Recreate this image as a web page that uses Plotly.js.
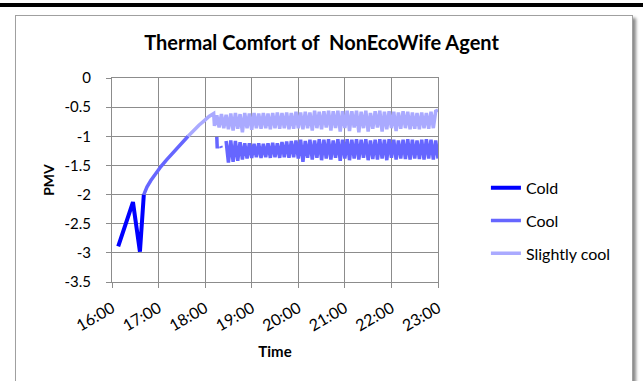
<!DOCTYPE html>
<html>
<head>
<meta charset="utf-8">
<script src="https://cdn.plot.ly/plotly-3.0.1.min.js"></script>
<style>
  html, body { margin: 0; padding: 0; background: #ffffff; overflow: hidden; width: 643px; height: 381px; }
  #topbar { position: absolute; left: 0; top: 3px; width: 643px; height: 4px; background: #000; }
  #chart { position: absolute; left: 15px; top: 15px; width: 616px; height: 380px; border: 1px solid #a0a0a0; box-shadow: 3px 3px 3px #8a8a8a; background: #fff; }
</style>
</head>
<body>
<div id="topbar"></div>
<div id="chart"></div>
<script>
// Time in minutes after 16:00
const xTickVals = [0, 60, 120, 180, 240, 300, 360, 420];
const xTickLabels = ["16:00", "17:00", "18:00", "19:00", "20:00", "21:00", "22:00", "23:00"];
const yTickVals = [0, -0.5, -1, -1.5, -2, -2.5, -3, -3.5];
const yTickLabels = ["0", "-0.5", "-1", "-1.5", "-2", "-2.5", "-3", "-3.5"];

// Cold
const coldTime = [8, 14, 20, 27, 36, 41];
const coldPMV  = [-2.89, -2.65, -2.43, -2.13, -2.98, -2.0];

// Cool (warm-up curve)
const coolRiseTime = [41, 45, 50, 56, 63, 70, 77, 84, 91, 98];
const coolRisePMV  = [-2.0, -1.87, -1.76, -1.64, -1.52, -1.41, -1.31, -1.21, -1.11, -1.0];
// Cool (short fragments right after 18:10)
const coolFragTime = [135, 135.6, null, 140, 140.8];
const coolFragPMV  = [-1.01, -1.21, null, -1.17, -1.2];

// Slightly cool (warm-up curve)
const slightRiseTime = [98, 105, 112, 119, 125, 131];
const slightRisePMV  = [-1.0, -0.9, -0.81, -0.73, -0.66, -0.61];

// Shared time grid of the oscillating part
const oscTime = [
  132, 135, 138, 141, 144, 147, 150, 153, 156, 159,
  162, 165, 168, 171, 174, 177, 180, 183, 186, 189,
  192, 195, 198, 201, 204, 207, 210, 213, 216, 219,
  222, 225, 228, 231, 234, 237, 240, 243, 246, 249,
  252, 255, 258, 261, 264, 267, 270, 273, 276, 279,
  282, 285, 288, 291, 294, 297, 300, 303, 306, 309,
  312, 315, 318, 321, 324, 327, 330, 333, 336, 339,
  342, 345, 348, 351, 354, 357, 360, 363, 366, 369,
  372, 375, 378, 381, 384, 387, 390, 393, 396, 399,
  402, 405, 408, 411, 414, 417, 420
];
const slightOscPMV = [
  -0.82, -0.64, -0.85, -0.62, -0.86, -0.63, -0.88, -0.61, -0.90, -0.60,
  -0.87, -0.62, -0.93, -0.60, -0.86, -0.61, -0.89, -0.60, -0.86, -0.61,
  -0.87, -0.60, -0.86, -0.61, -0.88, -0.60, -0.86, -0.59, -0.87, -0.60,
  -0.86, -0.59, -0.88, -0.60, -0.87, -0.58, -0.86, -0.59, -0.88, -0.58,
  -0.86, -0.59, -0.90, -0.56, -0.86, -0.58, -0.88, -0.57, -0.85, -0.56,
  -0.90, -0.57, -0.86, -0.56, -0.92, -0.57, -0.86, -0.56, -0.91, -0.57,
  -0.85, -0.56, -0.93, -0.58, -0.86, -0.56, -0.92, -0.60, -0.87, -0.57,
  -0.85, -0.56, -0.92, -0.58, -0.88, -0.57, -0.86, -0.58, -0.91, -0.59,
  -0.87, -0.57, -0.86, -0.58, -0.88, -0.59, -0.87, -0.60, -0.88, -0.59,
  -0.86, -0.60, -0.87, -0.58, -0.86, -0.57, -0.55
];
const coolOscPMV = [
  null, null, null, null, null, -1.08, -1.45, -1.07, -1.44, -1.08,
  -1.42, -1.10, -1.40, -1.12, -1.38, -1.12, -1.37, -1.13, -1.36, -1.12,
  -1.37, -1.13, -1.36, -1.12, -1.37, -1.11, -1.36, -1.12, -1.37, -1.10,
  -1.36, -1.09, -1.37, -1.08, -1.36, -1.07, -1.38, -1.06, -1.44, -1.08,
  -1.37, -1.06, -1.40, -1.07, -1.37, -1.05, -1.41, -1.06, -1.38, -1.05,
  -1.40, -1.07, -1.37, -1.05, -1.42, -1.06, -1.38, -1.05, -1.41, -1.06,
  -1.38, -1.05, -1.40, -1.06, -1.37, -1.05, -1.41, -1.07, -1.39, -1.06,
  -1.40, -1.05, -1.38, -1.06, -1.41, -1.05, -1.37, -1.06, -1.40, -1.07,
  -1.38, -1.06, -1.39, -1.05, -1.40, -1.06, -1.38, -1.07, -1.39, -1.06,
  -1.40, -1.05, -1.38, -1.06, -1.40, -1.07, -1.38
];

const seriesNames = ["Cold", "Cool", "Slightly cool"];
const seriesColors = ["#0000ff", "#6666ff", "#aaaaff"];

const FONT = "Lato, 'Open Sans', sans-serif";

const traces = [
  {
    x: coldTime, y: coldPMV
  },
  {
    x: coolRiseTime.concat([null], coolFragTime, [null], oscTime),
    y: coolRisePMV.concat([null], coolFragPMV, [null], coolOscPMV)
  },
  {
    x: slightRiseTime.concat(oscTime),
    y: slightRisePMV.concat(slightOscPMV)
  }
].map((t, i) => Object.assign(t, {
  type: "scatter",
  mode: "lines",
  name: seriesNames[i],
  legendgroup: "g" + i,
  connectgaps: false,
  line: { color: seriesColors[i], width: i === 0 ? 4 : 3.5 },
  hoverinfo: "skip"
}));

const gridColor = "#8c8c8c";

const layout = {
  width: 616,
  height: 380,
  margin: { l: 96, r: 194, t: 62, b: 114 },
  paper_bgcolor: "#ffffff",
  plot_bgcolor: "#ffffff",
  font: { family: FONT, size: 15, color: "#000" },
  title: {
    text: "<b>Thermal Comfort of \u00a0NonEcoWife Agent</b>",
    font: { family: FONT, size: 20, color: "#000" },
    x: 0.496, xanchor: "center", y: 0.928, yanchor: "middle"
  },
  xaxis: {
    range: [0, 420],
    tickmode: "array",
    tickvals: xTickVals,
    ticktext: xTickLabels,
    tickangle: -30,
    ticks: "outside",
    ticklen: 5,
    tickcolor: gridColor,
    ticklabelstandoff: 5,
    showgrid: true,
    gridcolor: gridColor,
    gridwidth: 1,
    showline: true,
    linecolor: gridColor,
    mirror: true,
    zeroline: false,
    tickfont: { family: FONT, size: 16, color: "#000" },
    title: { text: "<b>Time</b>", font: { family: FONT, size: 15, color: "#000" }, standoff: 13 }
  },
  yaxis: {
    range: [-3.5, 0],
    tickmode: "array",
    tickvals: yTickVals,
    ticktext: yTickLabels,
    ticks: "outside",
    ticklen: 5,
    tickcolor: gridColor,
    ticklabelstandoff: 12,
    showgrid: true,
    gridcolor: gridColor,
    gridwidth: 1,
    showline: true,
    linecolor: gridColor,
    mirror: true,
    zeroline: false,
    tickfont: { family: FONT, size: 15, color: "#000" },
    title: { text: "<b>PMV</b>", font: { family: FONT, size: 14, color: "#000" }, standoff: 6 }
  },
  showlegend: true,
  legend: {
    x: 1.147, xanchor: "left",
    y: 0.30, yanchor: "middle",
    traceorder: "grouped",
    tracegroupgap: 9,
    font: { family: FONT, size: 16, color: "#000" },
    bgcolor: "rgba(0,0,0,0)"
  }
};

Plotly.newPlot("chart", traces, layout, { displayModeBar: false, staticPlot: true });
</script>
</body>
</html>
